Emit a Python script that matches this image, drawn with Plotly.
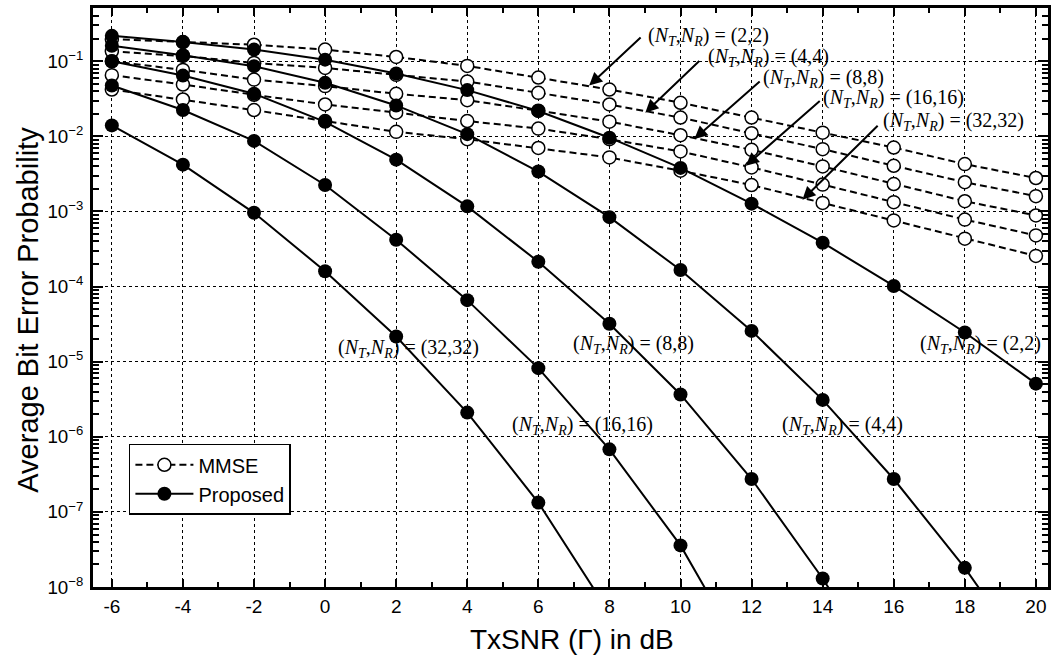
import numpy as np
import plotly.graph_objects as go

# ---------------- data ----------------
snr_db = [-6, -4, -2, 0, 2, 4, 6, 8, 10, 12, 14, 16, 18, 20]

mmse_2x2 = [0.197, 0.180, 0.166, 0.143, 0.114, 0.0867, 0.0607, 0.042, 0.028, 0.0178, 0.0112, 0.0071, 0.00427, 0.00279]
mmse_4x4 = [0.1355, 0.1175, 0.095, 0.0815, 0.0659, 0.0537, 0.038, 0.0266, 0.0178, 0.011, 0.00675, 0.00406, 0.00245, 0.0016]
mmse_8x8 = [0.100, 0.0767, 0.057, 0.0467, 0.0369, 0.0303, 0.022, 0.0157, 0.01035, 0.00662, 0.00398, 0.00232, 0.00137, 0.000885]
mmse_16x16 = [0.0653, 0.049, 0.0358, 0.0266, 0.0207, 0.016, 0.01268, 0.00916, 0.0063, 0.00386, 0.00228, 0.00133, 0.00078, 0.00048]
mmse_32x32 = [0.042, 0.031, 0.0224, 0.016, 0.01148, 0.00916, 0.007, 0.00524, 0.00349, 0.00225, 0.0013, 0.00076, 0.000434, 0.000256]

prop_2x2 = [0.218, 0.180, 0.143, 0.105, 0.0686, 0.0413, 0.0218, 9.6e-3, 3.8e-3, 1.27e-3, 3.84e-4, 1.02e-4, 2.45e-5, 5.1e-6]
prop_4x4 = [0.161, 0.120, 0.086, 0.0516, 0.0258, 0.0107, 3.4e-3, 8.4e-4, 1.66e-4, 2.57e-5, 3.1e-6, 2.74e-7, 1.8e-8, 8e-10]
prop_8x8 = [0.100, 0.0644, 0.037, 0.0156, 4.9e-3, 1.17e-3, 2.14e-4, 3.2e-5, 3.66e-6, 2.74e-7, 1.3e-8, 4e-10]
prop_16x16 = [0.0475, 0.0224, 8.7e-3, 2.25e-3, 4.2e-4, 6.6e-5, 8.2e-6, 6.8e-7, 3.58e-8, 8e-10]
prop_32x32 = [0.014, 4.2e-3, 9.6e-4, 1.6e-4, 2.16e-5, 2.1e-6, 1.33e-7, 4.5e-9]

config_labels = ["(2,2)", "(4,4)", "(8,8)", "(16,16)", "(32,32)"]
mmse_series = [mmse_2x2, mmse_4x4, mmse_8x8, mmse_16x16, mmse_32x32]
prop_series = [prop_2x2, prop_4x4, prop_8x8, prop_16x16, prop_32x32]

# arrow labels for MMSE curves: (text, text-left x, text y, tail x, tail y, tip x, tip y)
arrow_labels = [
    ("(2,2)", 9.03, 0.216, 8.92, 0.216, 7.43, 0.0475),
    ("(4,4)", 10.72, 0.1106, 10.57, 0.105, 9.01, 0.0207),
    ("(8,8)", 12.27, 0.0584, 12.27, 0.0560, 10.39, 0.0092),
    ("(16,16)", 13.96, 0.0317, 13.96, 0.0307, 11.84, 0.00406),
    ("(32,32)", 15.64, 0.0157, 15.59, 0.0145, 13.43, 0.00143),
]
# plain labels for Proposed curves: (text, left x, y)
plain_labels = [
    ("(32,32)", 0.32, 1.51e-5),
    ("(8,8)", 6.93, 1.67e-5),
    ("(2,2)", 16.68, 1.67e-5),
    ("(16,16)", 5.21, 1.43e-6),
    ("(4,4)", 12.80, 1.43e-6),
]

SANS = "Liberation Sans, Arial, sans-serif"
SERIF = "Liberation Serif, Times New Roman, serif"

fig = go.Figure()

for i, ys in enumerate(mmse_series):
    fig.add_trace(go.Scatter(
        x=snr_db[:len(ys)], y=ys, mode="lines+markers",
        name="MMSE", legendgroup="mmse", showlegend=(i == 0),
        line=dict(color="black", width=2, dash="7px,4px"),
        marker=dict(symbol="circle", size=13, color="white",
                    line=dict(color="black", width=1.5)),
    ))

for i, ys in enumerate(prop_series):
    fig.add_trace(go.Scatter(
        x=snr_db[:len(ys)], y=ys, mode="lines+markers",
        name="Proposed", legendgroup="prop", showlegend=(i == 0),
        line=dict(color="black", width=2),
        marker=dict(symbol="circle", size=14, color="black",
                    line=dict(color="black", width=0)),
    ))

def nt_nr(cfg):
    return "(<i>N</i><sub><i>T</i></sub>,<i>N</i><sub><i>R</i></sub>) = " + cfg

annotations = []
for cfg, tx, ty, ax_, ay_, hx, hy in arrow_labels:
    annotations.append(dict(
        x=hx, y=np.log10(hy), ax=ax_, ay=np.log10(ay_),
        xref="x", yref="y", axref="x", ayref="y",
        text="", showarrow=True, arrowhead=2, arrowsize=1.3,
        arrowwidth=2, arrowcolor="black"))
    annotations.append(dict(
        x=tx, y=np.log10(ty), xref="x", yref="y", text=nt_nr(cfg),
        showarrow=False, xanchor="left", yanchor="middle",
        font=dict(family=SERIF, size=20, color="black")))
for cfg, tx, ty in plain_labels:
    annotations.append(dict(
        x=tx, y=np.log10(ty), xref="x", yref="y", text=nt_nr(cfg),
        showarrow=False, xanchor="left", yanchor="middle",
        font=dict(family=SERIF, size=20, color="black")))

# axis titles
annotations.append(dict(
    x=-0.068, y=0.479, xref="paper", yref="paper",
    text="Average Bit Error Probability", textangle=-90,
    showarrow=False, xanchor="center", yanchor="middle",
    font=dict(family=SANS, size=29, color="black")))
annotations.append(dict(
    x=0.502, y=-0.091, xref="paper", yref="paper",
    text="TxSNR (Γ) in dB",
    showarrow=False, xanchor="center", yanchor="middle",
    font=dict(family=SANS, size=28, color="black")))

fig.update_layout(
    width=1056, height=660,
    margin=dict(l=93, r=7, t=5, b=73),
    paper_bgcolor="white", plot_bgcolor="white",
    showlegend=True,
    legend=dict(
        x=0.0376, y=0.2474, xanchor="left", yanchor="top",
        bgcolor="white", bordercolor="black", borderwidth=1.5,
        font=dict(family=SANS, size=20, color="black"),
        itemwidth=58, tracegroupgap=0,
    ),
    annotations=annotations,
)

fig.update_xaxes(
    range=[-6.53, 20.34], tickmode="array",
    tickvals=snr_db, ticktext=[str(v) for v in snr_db],
    showline=True, linecolor="black", linewidth=2.5, mirror="allticks",
    ticks="inside", ticklen=8, tickwidth=2, tickcolor="black",
    tickfont=dict(family=SANS, size=19, color="black"),
    showgrid=True, gridcolor="black", gridwidth=1, griddash="dot",
    zeroline=False,
    minor=dict(tickvals=[-5, -3, -1, 1, 3, 5, 7, 9, 11, 13, 15, 17, 19],
               ticks="inside", ticklen=5, tickwidth=2, tickcolor="black",
               showgrid=False),
)

fig.update_yaxes(
    type="log", range=[-8, -0.291], dtick=1, exponentformat="power",
    showline=True, linecolor="black", linewidth=2.5, mirror="allticks",
    ticks="inside", ticklen=10, tickwidth=2, tickcolor="black",
    tickfont=dict(family=SANS, size=15, color="black"),
    showgrid=True, gridcolor="black", gridwidth=1, griddash="dot",
    zeroline=False, ticklabelstandoff=4,
    minor=dict(dtick="D1", ticks="inside", ticklen=6, tickwidth=1.5,
               tickcolor="black", showgrid=False),
)

fig.write_html("out.html")
